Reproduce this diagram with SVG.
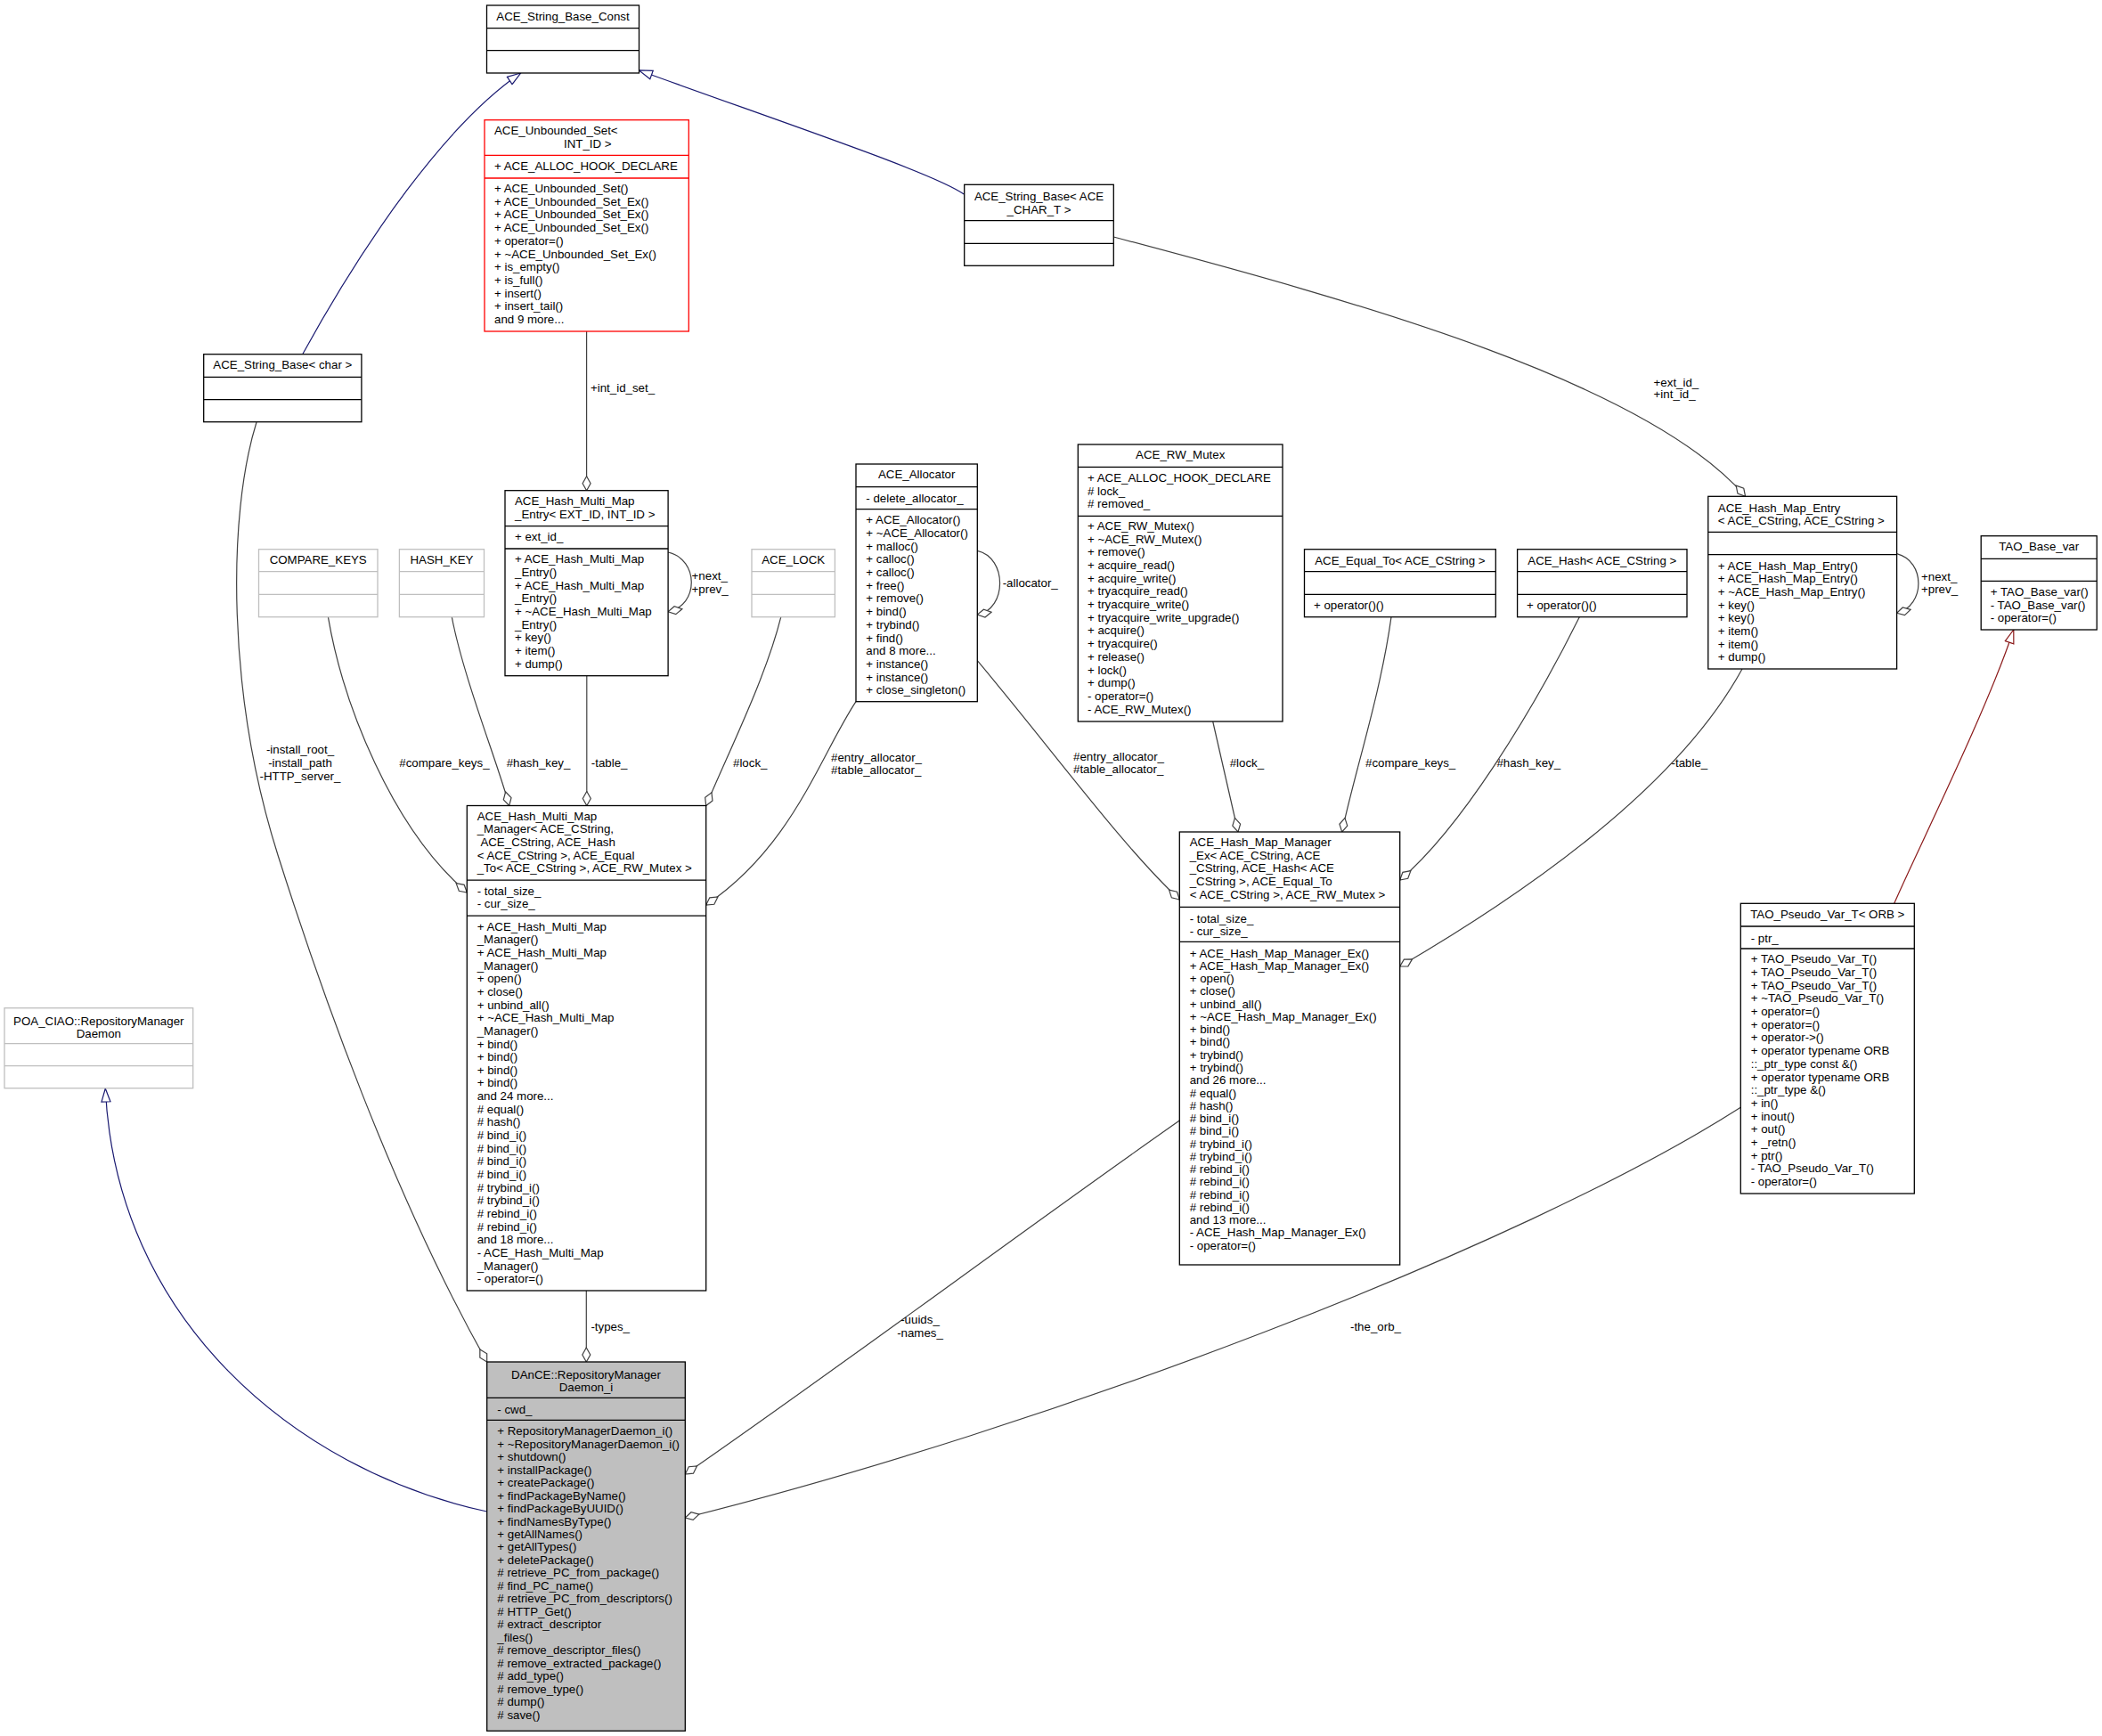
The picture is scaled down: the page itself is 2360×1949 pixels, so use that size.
<svg xmlns="http://www.w3.org/2000/svg" width="2360" height="1949" viewBox="0 0 2360 1949">
<style>
.t{font-family:"Liberation Sans",Arial,Helvetica,sans-serif;font-size:13.3px;fill:#000}
.m{text-anchor:middle}
.box{fill:#fff;stroke:#000;stroke-width:1.3}
.gbox{fill:#fff;stroke:#bfbfbf;stroke-width:1.3}
.rbox{fill:#fff;stroke:#ff0000;stroke-width:1.3}
.dbox{fill:#bfbfbf;stroke:#000;stroke-width:1.3}
.dv{fill:none;stroke:#000;stroke-width:1.3}
.gdv{fill:none;stroke:#bfbfbf;stroke-width:1.3}
.rdv{fill:none;stroke:#ff0000;stroke-width:1.3}
.e{fill:none;stroke:#404040;stroke-width:1.2}
.eb{fill:none;stroke:#191970;stroke-width:1.2}
.er{fill:none;stroke:#8b1a1a;stroke-width:1.2}
</style>
<defs>
<marker id="dia" markerUnits="userSpaceOnUse" markerWidth="18" markerHeight="11" viewBox="-1 -1 18 11" refX="16" refY="4.5" orient="auto"><path d="M0,4.5 L8,0 L16,4.5 L8,9 Z" fill="#fff" stroke="#404040" stroke-width="1.2"/></marker>
<marker id="tb" markerUnits="userSpaceOnUse" markerWidth="17" markerHeight="12" viewBox="-1 -1 17 12" refX="15" refY="5" orient="auto"><path d="M0,0 L15,5 L0,10 Z" fill="#fff" stroke="#191970" stroke-width="1.2"/></marker>
<marker id="tr" markerUnits="userSpaceOnUse" markerWidth="17" markerHeight="12" viewBox="-1 -1 17 12" refX="15" refY="5" orient="auto"><path d="M0,0 L15,5 L0,10 Z" fill="#fff" stroke="#8b1a1a" stroke-width="1.2"/></marker>
</defs>
<rect width="2360" height="1949" fill="#fff"/>

<g id="edges">
<path class="eb" d="M339.7,397.7 C410,270 500,140 584.6,82" marker-end="url(#tb)"/>
<path class="eb" d="M1082.7,218.3 C1050,195 900,145 717.4,79" marker-end="url(#tb)"/>
<path class="eb" d="M546.7,1697 C330,1650 130,1480 118.3,1222" marker-end="url(#tb)"/>
<path class="er" d="M2126.7,1014.3 C2150,960 2230,800 2260.8,707" marker-end="url(#tr)"/>
<path class="e" d="M658.6,372 L658.6,550.7" marker-end="url(#dia)"/>
<path class="e" d="M1250.3,266 C1530,340 1850,430 1959.6,557.3" marker-end="url(#dia)"/>
<path class="e" d="M288,474 C255,580 255,780 312,960 C357.6,1104 440,1340 546.7,1529" marker-end="url(#dia)"/>
<path class="e" d="M368.4,692.7 C385,790 440,930 524.3,1002" marker-end="url(#dia)"/>
<path class="e" d="M507.3,692.7 C520,760 560,860 571.7,904.5" marker-end="url(#dia)"/>
<path class="e" d="M658.8,758.7 L658.8,904.5" marker-end="url(#dia)"/>
<path class="e" d="M876.8,692.7 C860,760 820,840 792.7,904.5" marker-end="url(#dia)"/>
<path class="e" d="M961,787.7 C920,850 890,950 792.7,1016" marker-end="url(#dia)"/>
<path class="e" d="M1097.3,741.7 C1180,840 1260,950 1324.3,1010" marker-end="url(#dia)"/>
<path class="e" d="M1361.7,810 L1390,934" marker-end="url(#dia)"/>
<path class="e" d="M1562,692.7 C1550,780 1520,870 1506.7,934" marker-end="url(#dia)"/>
<path class="e" d="M1773.3,692.7 C1720,800 1640,930 1571.7,988" marker-end="url(#dia)"/>
<path class="e" d="M1956,751 C1880,890 1700,1010 1571.7,1085" marker-end="url(#dia)"/>
<path class="e" d="M1324.3,1258 C1150,1380 950,1530 769.3,1655" marker-end="url(#dia)"/>
<path class="e" d="M1954.3,1243.3 C1704,1403 1170,1604 769.3,1704" marker-end="url(#dia)"/>
<path class="e" d="M658.3,1449 L658.3,1529" marker-end="url(#dia)"/>
<path class="e" d="M750.1,620 C785,628 785,680 750.1,686.7" marker-end="url(#dia)"/>
<path class="e" d="M1097.3,618.3 C1131,626 1131,684 1097.3,690" marker-end="url(#dia)"/>
<path class="e" d="M2129.6,621.7 C2162,630 2162,680 2129.6,688.3" marker-end="url(#dia)"/>
<text class="t" x="663" y="439.5">+int_id_set_</text>
<text class="t" x="1856.6" y="433.5">+ext_id_</text>
<text class="t" x="1856.6" y="446.8">+int_id_</text>
<text class="t m" x="337" y="846.2">-install_root_</text>
<text class="t m" x="337" y="861.2">-install_path</text>
<text class="t m" x="337" y="875.5">-HTTP_server_</text>
<text class="t" x="448.3" y="861.2">#compare_keys_</text>
<text class="t" x="568.7" y="861.2">#hash_key_</text>
<text class="t" x="663.8" y="861.2">-table_</text>
<text class="t" x="823" y="861.2">#lock_</text>
<text class="t" x="933" y="854.5">#entry_allocator_</text>
<text class="t" x="933" y="868.5">#table_allocator_</text>
<text class="t" x="1205" y="853.5">#entry_allocator_</text>
<text class="t" x="1205" y="868.2">#table_allocator_</text>
<text class="t" x="1380.7" y="861.2">#lock_</text>
<text class="t" x="1533" y="861.2">#compare_keys_</text>
<text class="t" x="1680.4" y="861.2">#hash_key_</text>
<text class="t" x="1876.6" y="861.2">-table_</text>
<text class="t" x="1125.7" y="658.5">-allocator_</text>
<text class="t" x="776.6" y="651.2">+next_</text>
<text class="t" x="776.6" y="665.5">+prev_</text>
<text class="t" x="2157" y="651.8">+next_</text>
<text class="t" x="2157" y="666.2">+prev_</text>
<text class="t" x="663.4" y="1493.8">-types_</text>
<text class="t m" x="1033" y="1486.2">-uuids_</text>
<text class="t m" x="1033" y="1500.5">-names_</text>
<text class="t" x="1516" y="1493.8">-the_orb_</text>
</g>

<g id="n_string_base_const">
<rect class="box" x="546.5" y="6" width="171" height="76"/>
<path class="dv" d="M546.5,31.7H717.5M546.5,56.7H717.5"/>
<text class="t m" x="632" y="22.5">ACE_String_Base_Const</text>
</g>

<g id="n_unbounded_set">
<rect class="rbox" x="544" y="134.7" width="229.3" height="237.3"/>
<path class="rdv" d="M544,174.3H773.3M544,200H773.3"/>
<text class="t" x="555" y="151">ACE_Unbounded_Set&lt;</text>
<text class="t" x="633" y="165.5">INT_ID &gt;</text>
<text class="t" x="555" y="190.5">+ ACE_ALLOC_HOOK_DECLARE</text>
<text class="t" x="555" y="216">+ ACE_Unbounded_Set()</text>
<text class="t" x="555" y="230.7">+ ACE_Unbounded_Set_Ex()</text>
<text class="t" x="555" y="245.4">+ ACE_Unbounded_Set_Ex()</text>
<text class="t" x="555" y="260.1">+ ACE_Unbounded_Set_Ex()</text>
<text class="t" x="555" y="274.8">+ operator=()</text>
<text class="t" x="555" y="289.5">+ ~ACE_Unbounded_Set_Ex()</text>
<text class="t" x="555" y="304.2">+ is_empty()</text>
<text class="t" x="555" y="318.9">+ is_full()</text>
<text class="t" x="555" y="333.6">+ insert()</text>
<text class="t" x="555" y="348.3">+ insert_tail()</text>
<text class="t" x="555" y="363">and 9 more...</text>
</g>

<g id="n_string_base_char">
<rect class="box" x="228.7" y="397.7" width="177.2" height="76"/>
<path class="dv" d="M228.7,423.3H405.9M228.7,448.7H405.9"/>
<text class="t m" x="317.3" y="413.8">ACE_String_Base&lt; char &gt;</text>
</g>

<g id="n_string_base_ace_char_t">
<rect class="box" x="1082.7" y="207.3" width="167.6" height="91"/>
<path class="dv" d="M1082.7,247.7H1250.3M1082.7,273.3H1250.3"/>
<text class="t m" x="1166.5" y="224.5">ACE_String_Base&lt; ACE</text>
<text class="t m" x="1166.5" y="239.5">_CHAR_T &gt;</text>
</g>

<g id="n_hash_multi_map_entry">
<rect class="box" x="567" y="550.7" width="183.1" height="208"/>
<path class="dv" d="M567,590.7H750.1M567,616H750.1"/>
<text class="t" x="578" y="567.2">ACE_Hash_Multi_Map</text>
<text class="t" x="578" y="581.8">_Entry&lt; EXT_ID, INT_ID &gt;</text>
<text class="t" x="578" y="606.8">+ ext_id_</text>
<text class="t" x="578" y="632.2">+ ACE_Hash_Multi_Map</text>
<text class="t" x="578" y="646.9">_Entry()</text>
<text class="t" x="578" y="661.5">+ ACE_Hash_Multi_Map</text>
<text class="t" x="578" y="676.2">_Entry()</text>
<text class="t" x="578" y="690.9">+ ~ACE_Hash_Multi_Map</text>
<text class="t" x="578" y="705.5">_Entry()</text>
<text class="t" x="578" y="720.2">+ key()</text>
<text class="t" x="578" y="734.9">+ item()</text>
<text class="t" x="578" y="749.5">+ dump()</text>
</g>

<g id="n_compare_keys">
<rect class="gbox" x="290.5" y="616.7" width="133.5" height="76"/>
<path class="gdv" d="M290.5,641.7H424M290.5,667.3H424"/>
<text class="t m" x="357.2" y="632.8">COMPARE_KEYS</text>
</g>

<g id="n_hash_key">
<rect class="gbox" x="448.4" y="616.7" width="95.1" height="76"/>
<path class="gdv" d="M448.4,641.7H543.5M448.4,667.3H543.5"/>
<text class="t m" x="496" y="632.8">HASH_KEY</text>
</g>

<g id="n_ace_lock">
<rect class="gbox" x="844" y="616.7" width="93.4" height="76"/>
<path class="gdv" d="M844,641.7H937.4M844,667.3H937.4"/>
<text class="t m" x="890.7" y="632.8">ACE_LOCK</text>
</g>

<g id="n_ace_allocator">
<rect class="box" x="961" y="521" width="136.3" height="266.7"/>
<path class="dv" d="M961,546.7H1097.3M961,571.7H1097.3"/>
<text class="t m" x="1029.2" y="536.8">ACE_Allocator</text>
<text class="t" x="972.3" y="563.5">- delete_allocator_</text>
<text class="t" x="972.3" y="588.2">+ ACE_Allocator()</text>
<text class="t" x="972.3" y="602.9">+ ~ACE_Allocator()</text>
<text class="t" x="972.3" y="617.6">+ malloc()</text>
<text class="t" x="972.3" y="632.3">+ calloc()</text>
<text class="t" x="972.3" y="647">+ calloc()</text>
<text class="t" x="972.3" y="661.7">+ free()</text>
<text class="t" x="972.3" y="676.4">+ remove()</text>
<text class="t" x="972.3" y="691.1">+ bind()</text>
<text class="t" x="972.3" y="705.8">+ trybind()</text>
<text class="t" x="972.3" y="720.5">+ find()</text>
<text class="t" x="972.3" y="735.2">and 8 more...</text>
<text class="t" x="972.3" y="749.9">+ instance()</text>
<text class="t" x="972.3" y="764.6">+ instance()</text>
<text class="t" x="972.3" y="779.3">+ close_singleton()</text>
</g>

<g id="n_ace_rw_mutex">
<rect class="box" x="1210.3" y="499" width="229.7" height="311"/>
<path class="dv" d="M1210.3,524.3H1440M1210.3,579.3H1440"/>
<text class="t m" x="1325.2" y="515.2">ACE_RW_Mutex</text>
<text class="t" x="1221" y="540.8">+ ACE_ALLOC_HOOK_DECLARE</text>
<text class="t" x="1221" y="555.5"># lock_</text>
<text class="t" x="1221" y="570.2"># removed_</text>
<text class="t" x="1221" y="594.8">+ ACE_RW_Mutex()</text>
<text class="t" x="1221" y="609.5">+ ~ACE_RW_Mutex()</text>
<text class="t" x="1221" y="624.2">+ remove()</text>
<text class="t" x="1221" y="638.9">+ acquire_read()</text>
<text class="t" x="1221" y="653.6">+ acquire_write()</text>
<text class="t" x="1221" y="668.3">+ tryacquire_read()</text>
<text class="t" x="1221" y="683">+ tryacquire_write()</text>
<text class="t" x="1221" y="697.7">+ tryacquire_write_upgrade()</text>
<text class="t" x="1221" y="712.4">+ acquire()</text>
<text class="t" x="1221" y="727.1">+ tryacquire()</text>
<text class="t" x="1221" y="741.8">+ release()</text>
<text class="t" x="1221" y="756.5">+ lock()</text>
<text class="t" x="1221" y="771.2">+ dump()</text>
<text class="t" x="1221" y="785.9">- operator=()</text>
<text class="t" x="1221" y="800.6">- ACE_RW_Mutex()</text>
</g>

<g id="n_ace_equal_to">
<rect class="box" x="1464.5" y="616.7" width="214.8" height="76"/>
<path class="dv" d="M1464.5,641.7H1679.3M1464.5,667.3H1679.3"/>
<text class="t m" x="1571.9" y="633.5">ACE_Equal_To&lt; ACE_CString &gt;</text>
<text class="t" x="1475" y="683.5">+ operator()()</text>
</g>

<g id="n_ace_hash">
<rect class="box" x="1703.6" y="616.7" width="190.4" height="76"/>
<path class="dv" d="M1703.6,641.7H1894M1703.6,667.3H1894"/>
<text class="t m" x="1798.8" y="633.5">ACE_Hash&lt; ACE_CString &gt;</text>
<text class="t" x="1714" y="683.5">+ operator()()</text>
</g>

<g id="n_hash_map_entry">
<rect class="box" x="1917.8" y="557.3" width="211.8" height="193.7"/>
<path class="dv" d="M1917.8,597.3H2129.6M1917.8,622.7H2129.6"/>
<text class="t" x="1928.8" y="574.5">ACE_Hash_Map_Entry</text>
<text class="t" x="1928.8" y="588.8">&lt; ACE_CString, ACE_CString &gt;</text>
<text class="t" x="1928.8" y="639.5">+ ACE_Hash_Map_Entry()</text>
<text class="t" x="1928.8" y="654.2">+ ACE_Hash_Map_Entry()</text>
<text class="t" x="1928.8" y="668.8">+ ~ACE_Hash_Map_Entry()</text>
<text class="t" x="1928.8" y="683.5">+ key()</text>
<text class="t" x="1928.8" y="698.2">+ key()</text>
<text class="t" x="1928.8" y="712.9">+ item()</text>
<text class="t" x="1928.8" y="727.5">+ item()</text>
<text class="t" x="1928.8" y="742.2">+ dump()</text>
</g>

<g id="n_tao_base_var">
<rect class="box" x="2224.2" y="601.7" width="130" height="105.3"/>
<path class="dv" d="M2224.2,627.3H2354.2M2224.2,652.3H2354.2"/>
<text class="t m" x="2289.2" y="617.8">TAO_Base_var</text>
<text class="t" x="2234.7" y="668.8">+ TAO_Base_var()</text>
<text class="t" x="2234.7" y="683.5">- TAO_Base_var()</text>
<text class="t" x="2234.7" y="698.2">- operator=()</text>
</g>

<g id="n_hash_multi_map_manager">
<rect class="box" x="524.3" y="904.5" width="268.4" height="544.5"/>
<path class="dv" d="M524.3,988.1H792.7M524.3,1028.1H792.7"/>
<text class="t" x="535.7" y="920.7">ACE_Hash_Multi_Map</text>
<text class="t" x="535.7" y="935.3">_Manager&lt; ACE_CString,</text>
<text class="t" x="539.4" y="949.9">ACE_CString, ACE_Hash</text>
<text class="t" x="535.7" y="964.5">&lt; ACE_CString &gt;, ACE_Equal</text>
<text class="t" x="535.7" y="979.1">_To&lt; ACE_CString &gt;, ACE_RW_Mutex &gt;</text>
<text class="t" x="535.7" y="1004.6">- total_size_</text>
<text class="t" x="535.7" y="1019.2">- cur_size_</text>
<text class="t" x="535.7" y="1044.6">+ ACE_Hash_Multi_Map</text>
<text class="t" x="535.7" y="1059.3">_Manager()</text>
<text class="t" x="535.7" y="1073.9">+ ACE_Hash_Multi_Map</text>
<text class="t" x="535.7" y="1088.6">_Manager()</text>
<text class="t" x="535.7" y="1103.2">+ open()</text>
<text class="t" x="535.7" y="1117.9">+ close()</text>
<text class="t" x="535.7" y="1132.5">+ unbind_all()</text>
<text class="t" x="535.7" y="1147.2">+ ~ACE_Hash_Multi_Map</text>
<text class="t" x="535.7" y="1161.8">_Manager()</text>
<text class="t" x="535.7" y="1176.5">+ bind()</text>
<text class="t" x="535.7" y="1191.1">+ bind()</text>
<text class="t" x="535.7" y="1205.8">+ bind()</text>
<text class="t" x="535.7" y="1220.4">+ bind()</text>
<text class="t" x="535.7" y="1235.1">and 24 more...</text>
<text class="t" x="535.7" y="1249.7"># equal()</text>
<text class="t" x="535.7" y="1264.4"># hash()</text>
<text class="t" x="535.7" y="1279"># bind_i()</text>
<text class="t" x="535.7" y="1293.7"># bind_i()</text>
<text class="t" x="535.7" y="1308.3"># bind_i()</text>
<text class="t" x="535.7" y="1323"># bind_i()</text>
<text class="t" x="535.7" y="1337.6"># trybind_i()</text>
<text class="t" x="535.7" y="1352.3"># trybind_i()</text>
<text class="t" x="535.7" y="1366.9"># rebind_i()</text>
<text class="t" x="535.7" y="1381.6"># rebind_i()</text>
<text class="t" x="535.7" y="1396.2">and 18 more...</text>
<text class="t" x="535.7" y="1410.9">- ACE_Hash_Multi_Map</text>
<text class="t" x="535.7" y="1425.5">_Manager()</text>
<text class="t" x="535.7" y="1440.2">- operator=()</text>
</g>

<g id="n_hash_map_manager_ex">
<rect class="box" x="1324.3" y="934" width="247.4" height="486"/>
<path class="dv" d="M1324.3,1018.3H1571.7M1324.3,1057.3H1571.7"/>
<text class="t" x="1335.7" y="950.2">ACE_Hash_Map_Manager</text>
<text class="t" x="1335.7" y="964.8">_Ex&lt; ACE_CString, ACE</text>
<text class="t" x="1335.7" y="979.4">_CString, ACE_Hash&lt; ACE</text>
<text class="t" x="1335.7" y="994">_CString &gt;, ACE_Equal_To</text>
<text class="t" x="1335.7" y="1008.6">&lt; ACE_CString &gt;, ACE_RW_Mutex &gt;</text>
<text class="t" x="1335.7" y="1035.5">- total_size_</text>
<text class="t" x="1335.7" y="1049.8">- cur_size_</text>
<text class="t" x="1335.7" y="1074.5">+ ACE_Hash_Map_Manager_Ex()</text>
<text class="t" x="1335.7" y="1088.8">+ ACE_Hash_Map_Manager_Ex()</text>
<text class="t" x="1335.7" y="1103">+ open()</text>
<text class="t" x="1335.7" y="1117.3">+ close()</text>
<text class="t" x="1335.7" y="1131.6">+ unbind_all()</text>
<text class="t" x="1335.7" y="1145.9">+ ~ACE_Hash_Map_Manager_Ex()</text>
<text class="t" x="1335.7" y="1160.1">+ bind()</text>
<text class="t" x="1335.7" y="1174.4">+ bind()</text>
<text class="t" x="1335.7" y="1188.7">+ trybind()</text>
<text class="t" x="1335.7" y="1202.9">+ trybind()</text>
<text class="t" x="1335.7" y="1217.2">and 26 more...</text>
<text class="t" x="1335.7" y="1231.5"># equal()</text>
<text class="t" x="1335.7" y="1245.7"># hash()</text>
<text class="t" x="1335.7" y="1260"># bind_i()</text>
<text class="t" x="1335.7" y="1274.3"># bind_i()</text>
<text class="t" x="1335.7" y="1288.6"># trybind_i()</text>
<text class="t" x="1335.7" y="1302.8"># trybind_i()</text>
<text class="t" x="1335.7" y="1317.1"># rebind_i()</text>
<text class="t" x="1335.7" y="1331.4"># rebind_i()</text>
<text class="t" x="1335.7" y="1345.6"># rebind_i()</text>
<text class="t" x="1335.7" y="1359.9"># rebind_i()</text>
<text class="t" x="1335.7" y="1374.2">and 13 more...</text>
<text class="t" x="1335.7" y="1388.4">- ACE_Hash_Map_Manager_Ex()</text>
<text class="t" x="1335.7" y="1402.7">- operator=()</text>
</g>

<g id="n_tao_pseudo_var_t">
<rect class="box" x="1954.3" y="1014.3" width="195" height="325.7"/>
<path class="dv" d="M1954.3,1040H2149.3M1954.3,1065H2149.3"/>
<text class="t m" x="2051.8" y="1031.2">TAO_Pseudo_Var_T&lt; ORB &gt;</text>
<text class="t" x="1965.7" y="1057.8">- ptr_</text>
<text class="t" x="1965.7" y="1081.2">+ TAO_Pseudo_Var_T()</text>
<text class="t" x="1965.7" y="1095.9">+ TAO_Pseudo_Var_T()</text>
<text class="t" x="1965.7" y="1110.6">+ TAO_Pseudo_Var_T()</text>
<text class="t" x="1965.7" y="1125.3">+ ~TAO_Pseudo_Var_T()</text>
<text class="t" x="1965.7" y="1140">+ operator=()</text>
<text class="t" x="1965.7" y="1154.7">+ operator=()</text>
<text class="t" x="1965.7" y="1169.4">+ operator-&gt;()</text>
<text class="t" x="1965.7" y="1184.1">+ operator typename ORB</text>
<text class="t" x="1965.7" y="1198.8">::_ptr_type const &amp;()</text>
<text class="t" x="1965.7" y="1213.5">+ operator typename ORB</text>
<text class="t" x="1965.7" y="1228.2">::_ptr_type &amp;()</text>
<text class="t" x="1965.7" y="1242.9">+ in()</text>
<text class="t" x="1965.7" y="1257.6">+ inout()</text>
<text class="t" x="1965.7" y="1272.3">+ out()</text>
<text class="t" x="1965.7" y="1287">+ _retn()</text>
<text class="t" x="1965.7" y="1301.7">+ ptr()</text>
<text class="t" x="1965.7" y="1316.4">- TAO_Pseudo_Var_T()</text>
<text class="t" x="1965.7" y="1331.1">- operator=()</text>
</g>

<g id="n_poa_ciao">
<rect class="gbox" x="5" y="1131.7" width="211.7" height="90"/>
<path class="gdv" d="M5,1171.7H216.7M5,1196.7H216.7"/>
<text class="t m" x="110.8" y="1150.5">POA_CIAO::RepositoryManager</text>
<text class="t m" x="110.8" y="1164.5">Daemon</text>
</g>

<g id="n_dance_rmd">
<rect class="dbox" x="546.7" y="1529" width="222.6" height="414.3"/>
<path class="dv" d="M546.7,1569.3H769.3M546.7,1594.3H769.3"/>
<text class="t m" x="658" y="1547.8">DAnCE::RepositoryManager</text>
<text class="t m" x="658" y="1561.8">Daemon_i</text>
<text class="t" x="558.3" y="1587.2">- cwd_</text>
<text class="t" x="558.3" y="1611.2">+ RepositoryManagerDaemon_i()</text>
<text class="t" x="558.3" y="1625.7">+ ~RepositoryManagerDaemon_i()</text>
<text class="t" x="558.3" y="1640.1">+ shutdown()</text>
<text class="t" x="558.3" y="1654.6">+ installPackage()</text>
<text class="t" x="558.3" y="1669.1">+ createPackage()</text>
<text class="t" x="558.3" y="1683.6">+ findPackageByName()</text>
<text class="t" x="558.3" y="1698">+ findPackageByUUID()</text>
<text class="t" x="558.3" y="1712.5">+ findNamesByType()</text>
<text class="t" x="558.3" y="1727">+ getAllNames()</text>
<text class="t" x="558.3" y="1741.4">+ getAllTypes()</text>
<text class="t" x="558.3" y="1755.9">+ deletePackage()</text>
<text class="t" x="558.3" y="1770.4"># retrieve_PC_from_package()</text>
<text class="t" x="558.3" y="1784.8"># find_PC_name()</text>
<text class="t" x="558.3" y="1799.3"># retrieve_PC_from_descriptors()</text>
<text class="t" x="558.3" y="1813.8"># HTTP_Get()</text>
<text class="t" x="558.3" y="1828.3"># extract_descriptor</text>
<text class="t" x="558.3" y="1842.7">_files()</text>
<text class="t" x="558.3" y="1857.2"># remove_descriptor_files()</text>
<text class="t" x="558.3" y="1871.7"># remove_extracted_package()</text>
<text class="t" x="558.3" y="1886.1"># add_type()</text>
<text class="t" x="558.3" y="1900.6"># remove_type()</text>
<text class="t" x="558.3" y="1915.1"># dump()</text>
<text class="t" x="558.3" y="1929.5"># save()</text>
</g>
</svg>
